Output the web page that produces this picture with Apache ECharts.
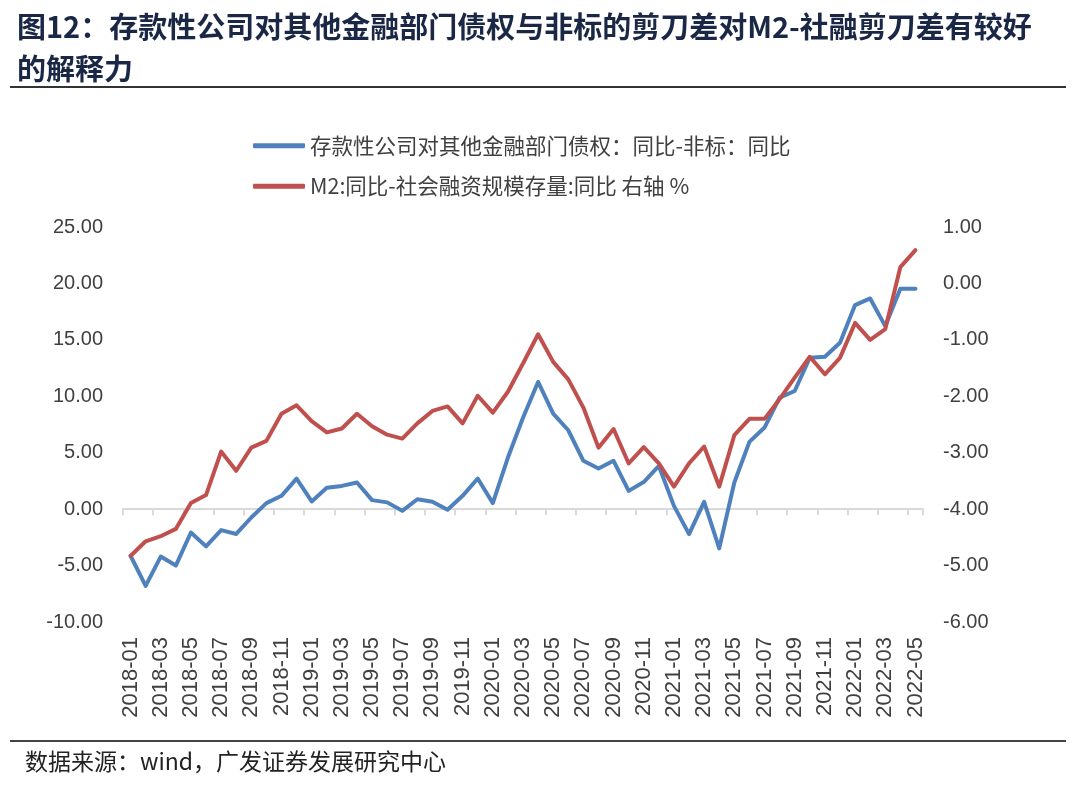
<!DOCTYPE html>
<html><head><meta charset="utf-8">
<script src="https://cdn.jsdelivr.net/npm/echarts@6/dist/echarts.min.js"></script>
<style>html,body{margin:0;padding:0;background:#fff}#c{width:1080px;height:787px}</style>
</head><body><div id="c"></div>
<script>
const months = [];
for (let y = 2018; y <= 2022; y++) for (let m = 1; m <= 12; m++) { if (y === 2022 && m > 5) break; months.push(y + '-' + String(m).padStart(2, '0')); }
const blueName = '存款性公司对其他金融部门债权：同比-非标：同比';
const redName = 'M2:同比-社会融资规模存量:同比 右轴 %';
const blueValues = [-4.13,-6.8,-4.2,-5.0,-2.07,-3.3,-1.86,-2.2,-0.74,0.53,1.18,2.7,0.68,1.89,2.06,2.36,0.8,0.6,
  -0.15,0.88,0.65,-0.06,1.18,2.71,0.53,4.57,8.1,11.27,8.47,6.99,4.28,3.6,4.28,1.62,2.4,3.83,
  0.29,-2.21,0.65,-3.48,2.36,5.96,7.23,9.88,10.47,13.42,13.5,14.75,18.08,18.67,16.22,19.53,19.53];
const redValues = [-4.83,-4.57,-4.48,-4.35,-3.89,-3.75,-2.98,-3.32,-2.91,-2.79,-2.31,-2.16,-2.44,-2.64,-2.57,-2.31,-2.53,-2.68,
  -2.75,-2.48,-2.26,-2.18,-2.48,-1.99,-2.29,-1.92,-1.42,-0.90,-1.39,-1.70,-2.20,-2.91,-2.58,-3.19,-2.90,-3.19,
  -3.60,-3.19,-2.89,-3.60,-2.69,-2.40,-2.40,-2.05,-1.67,-1.30,-1.61,-1.32,-0.70,-1.00,-0.81,0.29,0.59];
const leftTicks = {min: -10, max: 25, interval: 5};
const rightTicks = {min: -6, max: 1, interval: 1};

const chart = echarts.init(document.getElementById('c'));
const labelStyle = {color: '#404040', fontSize: 20, fontFamily: 'Liberation Sans, Arial, sans-serif'};
chart.setOption({
  animation: false,
  backgroundColor: '#fff',
  title: {
    text: '图12：存款性公司对其他金融部门债权与非标的剪刀差对M2-社融剪刀差有较好\n的解释力',
    left: 12, top: 1,
    textStyle: {fontSize: 29, fontWeight: 'bold', color: '#1a2745', lineHeight: 42, fontFamily: 'Noto Sans CJK SC'}
  },
  graphic: [
    {type: 'line', shape: {x1: 10, y1: 87, x2: 1066, y2: 87}, style: {stroke: '#333', lineWidth: 2}},
    {type: 'line', shape: {x1: 10, y1: 741, x2: 1066, y2: 741}, style: {stroke: '#444', lineWidth: 2}},
    {type: 'text', left: 25, top: 750, style: {text: '数据来源：wind，广发证券发展研究中心', fontSize: 23, fill: '#222', fontFamily: 'Noto Sans CJK SC'}}
  ],
  legend: {
    orient: 'vertical', left: 248, top: 130, itemGap: 19, itemWidth: 52, itemHeight: 5,
    icon: 'roundRect',
    textStyle: {fontSize: 21.5, color: '#404040', fontFamily: 'Noto Sans CJK SC'},
    data: [blueName, redName]
  },
  grid: {left: 123, right: 157, top: 227, bottom: 165},
  xAxis: [
    {type: 'category', data: months, boundaryGap: true, position: 'bottom',
     axisLine: {show: false, onZero: false}, axisTick: {show: false},
     axisLabel: {rotate: 90, interval: 1, margin: 15, fontSize: 22, color: '#404040', fontFamily: 'Liberation Sans, Arial, sans-serif'}},
    {type: 'category', data: months, boundaryGap: true, position: 'bottom',
     axisLine: {show: true, onZero: true, lineStyle: {color: '#d9d9d9', width: 2}},
     axisTick: {show: true, interval: 1, length: 6, lineStyle: {color: '#d9d9d9', width: 2}},
     axisLabel: {show: false}}
  ],
  yAxis: [
    {type: 'value', min: leftTicks.min, max: leftTicks.max, interval: leftTicks.interval,
     splitLine: {show: false}, axisLine: {show: false}, axisTick: {show: false},
     axisLabel: Object.assign({margin: 20, formatter: v => v.toFixed(2)}, labelStyle)},
    {type: 'value', min: rightTicks.min, max: rightTicks.max, interval: rightTicks.interval,
     splitLine: {show: false}, axisLine: {show: false}, axisTick: {show: false},
     axisLabel: Object.assign({margin: 20, formatter: v => v.toFixed(2)}, labelStyle)}
  ],
  series: [
    {name: blueName, type: 'line', data: blueValues, xAxisIndex: 0, yAxisIndex: 0, symbol: 'none',
     lineStyle: {width: 4, color: '#4f81bd', cap: 'round', join: 'round'}, itemStyle: {color: '#4f81bd'}, z: 2},
    {name: redName, type: 'line', data: redValues, xAxisIndex: 0, yAxisIndex: 1, symbol: 'none',
     lineStyle: {width: 4, color: '#c0504d', cap: 'round', join: 'round'}, itemStyle: {color: '#c0504d'}, z: 3}
  ]
});
</script></body></html>
